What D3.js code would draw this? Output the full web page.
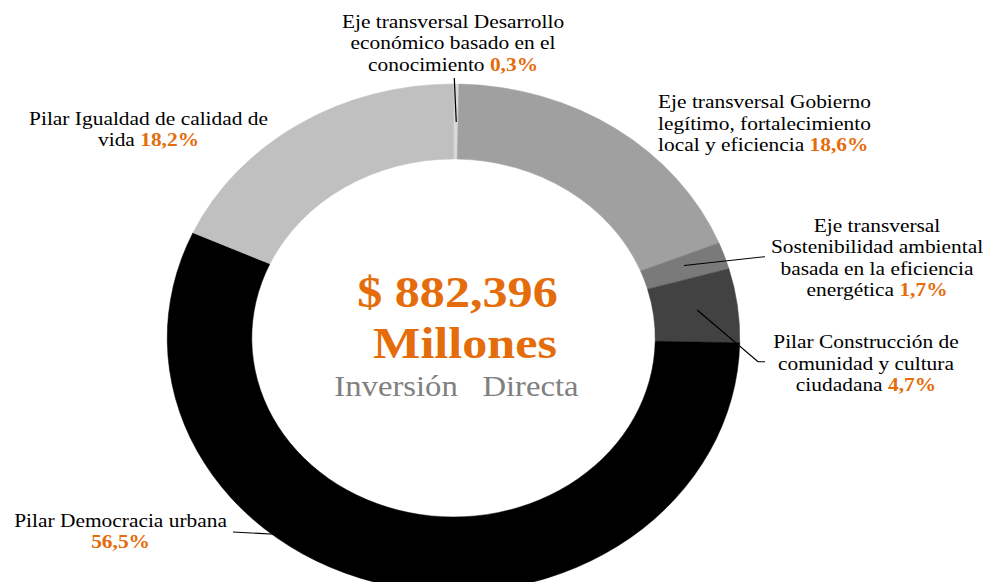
<!DOCTYPE html>
<html><head><meta charset="utf-8">
<script src="https://cdn.jsdelivr.net/npm/d3@7/dist/d3.min.js"></script>
<style>body{margin:0;background:#fff;overflow:hidden}</style>
</head><body><svg id="c" width="989" height="582"></svg>
<script>
// ---- data ----
const categories = [
  "Eje transversal Desarrollo económico basado en el conocimiento",
  "Eje transversal Gobierno legítimo, fortalecimiento local y eficiencia",
  "Eje transversal Sostenibilidad ambiental basada en la eficiencia energética",
  "Pilar Construcción de comunidad y cultura ciudadana",
  "Pilar Democracia urbana",
  "Pilar Igualdad de calidad de vida"
];
const values = [0.3, 18.6, 1.7, 4.7, 56.5, 18.2];
const percentLabels = ["0,3%", "18,6%", "1,7%", "4,7%", "56,5%", "18,2%"];
const labelLines = [
  ["Eje transversal Desarrollo", "económico basado en el", "conocimiento"],
  ["Eje transversal Gobierno", "legítimo, fortalecimiento", "local y eficiencia"],
  ["Eje transversal", "Sostenibilidad ambiental", "basada en la eficiencia", "energética"],
  ["Pilar Construcción de", "comunidad y cultura", "ciudadana"],
  ["Pilar Democracia urbana", ""],
  ["Pilar Igualdad de calidad de", "vida"]
];
const centerLines = ["$ 882,396", "Millones", "Inversión  Directa"];

// ---- styles / layout ----
const colors = ["#d9d9d9", "#a0a0a0", "#7a7a7a", "#424242", "#000000", "#c0c0c0"];
const orange = "#E46C0A";
const SX = 1.127;               // horizontal stretch of the original picture
const cx = 402.4, cy = 338, rOut = 254, rIn = 179;
const fs = 19, lh = 21.5;
const labelPos = [
  {x: 402, y: 28, anchor: "middle"},
  {x: 583.9, y: 108.5, anchor: "start"},
  {x: 778.2, y: 231.7, anchor: "middle"},
  {x: 768.4, y: 348.5, anchor: "middle"},
  {x: 107, y: 527, anchor: "middle"},
  {x: 131.8, y: 125, anchor: "middle"}
];
// leader lines: t = fraction through slice, r = radius, then points (unstretched)
const leaders = [
  {i: 0, t: 0.6, r: 216, pts: [[403.1, 78]]},
  {i: 2, t: 0.4, r: 217, pts: [[678.8, 256.7]]},
  {i: 3, t: 0.5, r: 218, pts: [[672.6, 361.7], [678.8, 361.7]]},
  {i: 4, t: 0.62, r: 247, pts: [[206.7, 532]]}
];
const centerPos = [
  {x: 405.9, y: 307, size: 44.5, weight: "bold", fill: orange, ws: 0},
  {x: 412.6, y: 358, size: 44.5, weight: "bold", fill: orange, ws: 0},
  {x: 405, y: 396, size: 29, weight: "normal", fill: "#808080", ws: 3.7}
];

const svg = d3.select("#c");
const g = svg.append("g").attr("transform", `scale(${SX},1)`);

const pie = d3.pie().sort(null).value(d => d).startAngle(0).endAngle(2 * Math.PI);
const arcs = pie(values);
const arc = d3.arc().innerRadius(rIn).outerRadius(rOut);

g.append("g").attr("transform", `translate(${cx},${cy})`)
  .selectAll("path").data(arcs).join("path")
  .attr("d", arc)
  .attr("fill", (d, i) => colors[i])
  .attr("stroke", (d, i) => colors[i])
  .attr("stroke-width", 0.5);

// leader lines
leaders.forEach(L => {
  const a = arcs[L.i];
  const ang = a.startAngle + L.t * (a.endAngle - a.startAngle);
  const p0 = [cx + L.r * Math.sin(ang), cy - L.r * Math.cos(ang)];
  g.append("path")
    .attr("d", d3.line()([p0, ...L.pts]))
    .attr("fill", "none").attr("stroke", "#000").attr("stroke-width", 1.1);
});

// labels
categories.forEach((c, i) => {
  const p = labelPos[i];
  const t = g.append("text")
    .attr("x", p.x).attr("y", p.y)
    .attr("text-anchor", p.anchor)
    .attr("font-family", "'Liberation Serif', 'Times New Roman', serif")
    .attr("font-size", fs).attr("fill", "#000");
  const lines = labelLines[i];
  lines.forEach((ln, j) => {
    const ts = t.append("tspan").attr("x", p.x).attr("dy", j === 0 ? 0 : lh);
    if (j === lines.length - 1) {
      ts.append("tspan").text(ln === "" ? "" : ln + " ");
      ts.append("tspan").attr("font-weight", "bold").attr("fill", orange).text(percentLabels[i]);
    } else {
      ts.text(ln);
    }
  });
});

// center text
centerLines.forEach((s, i) => {
  const p = centerPos[i];
  g.append("text").attr("x", p.x).attr("y", p.y).attr("text-anchor", "middle")
    .attr("font-family", "'Liberation Serif', 'Times New Roman', serif")
    .attr("font-weight", p.weight).attr("font-size", p.size)
    .attr("word-spacing", p.ws).style("white-space", "pre")
    .attr("fill", p.fill).text(s);
});
</script>
</body></html>
